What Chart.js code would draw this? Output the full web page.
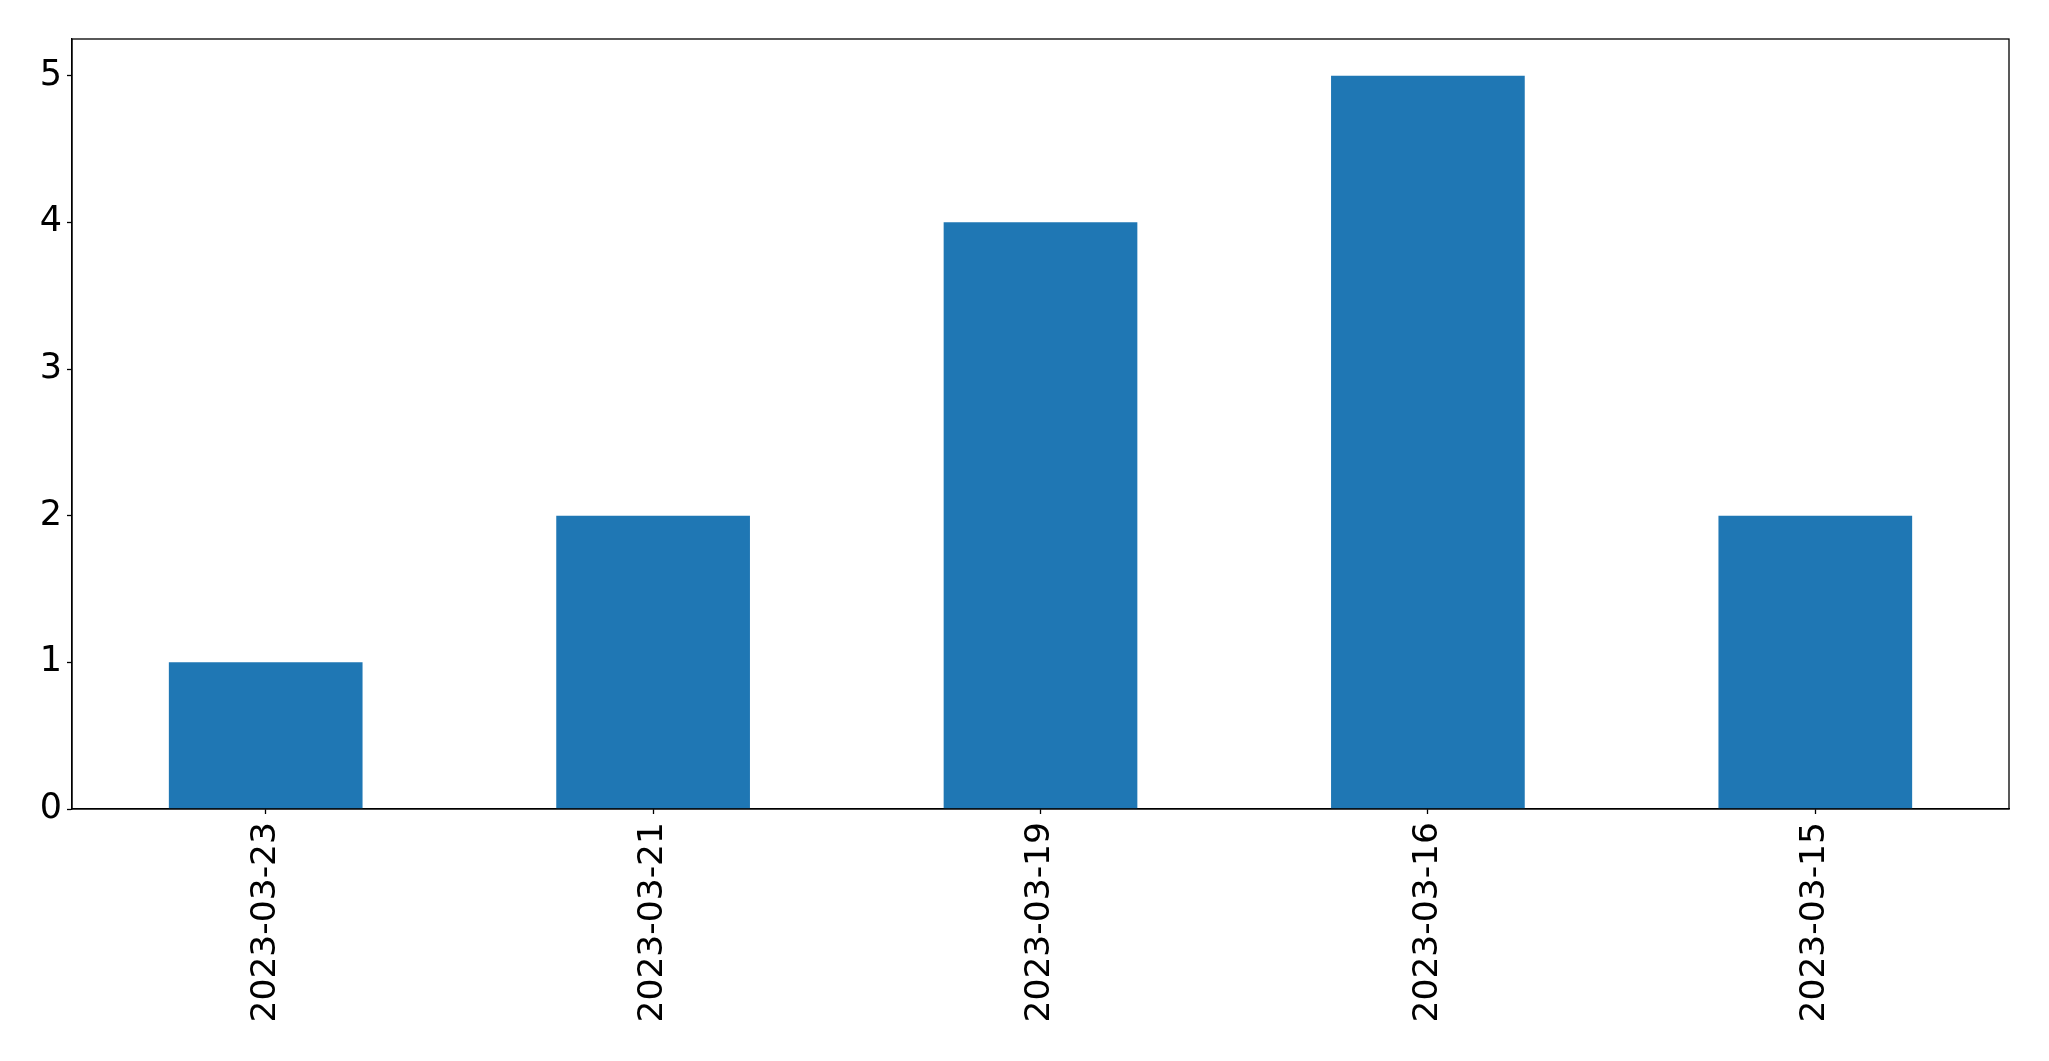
<!DOCTYPE html>
<html>
<head>
<meta charset="utf-8">
<script src="https://cdn.jsdelivr.net/npm/chart.js@4/dist/chart.umd.min.js"></script>
<style>
html,body{margin:0;padding:0;background:#fff;}
#wrap{width:2049px;height:1061px;}
</style>
</head>
<body>
<div id="wrap"><canvas id="c" width="2049" height="1061"></canvas></div>
<script>
const categories = ["2023-03-23", "2023-03-21", "2023-03-19", "2023-03-16", "2023-03-15"];
const counts = [1, 2, 4, 5, 2];
const yTicks = [0, 1, 2, 3, 4, 5];
const yMax = 5.25;

const frame = {
  id: 'frame',
  afterDraw(chart) {
    const a = chart.chartArea, ctx = chart.ctx;
    ctx.save();
    ctx.strokeStyle = '#000';
    ctx.lineWidth = 1.3;
    ctx.strokeRect(a.left, a.top, a.right - a.left, a.bottom - a.top);
    ctx.restore();
  }
};

new Chart(document.getElementById('c'), {
  type: 'bar',
  data: {
    labels: categories,
    datasets: [{
      data: counts,
      backgroundColor: '#1f77b4',
      borderWidth: 0,
      barPercentage: 0.5,
      categoryPercentage: 1.0
    }]
  },
  options: {
    responsive: false,
    animation: false,
    devicePixelRatio: 1,
    layout: { padding: { top: 39, right: 40, left: 0, bottom: 0 } },
    plugins: { legend: { display: false }, tooltip: { enabled: false } },
    scales: {
      x: {
        offset: true,
        grid: { display: true, offset: false, drawOnChartArea: false, drawTicks: true, tickLength: 5, tickColor: '#000', tickWidth: 1.3 },
        border: { display: true, color: '#000', width: 1.3 },
        ticks: {
          color: '#000',
          font: { family: 'DejaVu Sans', size: 34.5 },
          minRotation: 90, maxRotation: 90,
          autoSkip: false,
          padding: 8
        },
        afterFit(s) { s.height = 252; }
      },
      y: {
        min: 0,
        max: yMax,
        grid: { display: true, drawOnChartArea: false, drawTicks: true, tickLength: 5, tickColor: '#000', tickWidth: 1.3 },
        border: { display: true, color: '#000', width: 1.3 },
        ticks: {
          color: '#000',
          font: { family: 'DejaVu Sans', size: 35 },
          padding: 5
        },
        afterBuildTicks(s) { s.ticks = yTicks.map(v => ({ value: v })); },
        afterFit(s) { s.width = 72; }
      }
    }
  },
  plugins: [frame]
});
</script>
</body>
</html>
